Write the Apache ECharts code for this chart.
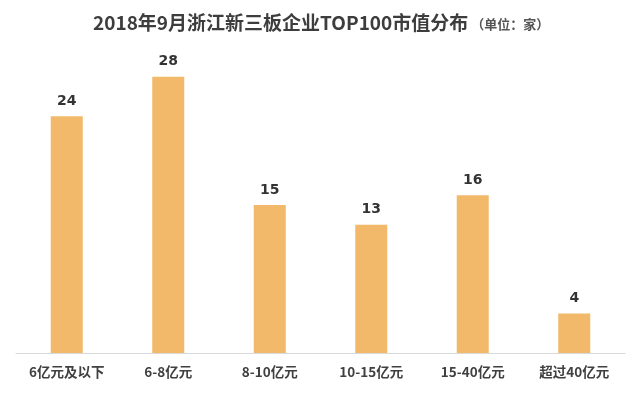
<!DOCTYPE html>
<html>
<head>
<meta charset="utf-8">
<script src="https://cdn.jsdelivr.net/npm/echarts@6/dist/echarts.min.js"></script>
<style>
  html, body { margin: 0; padding: 0; background: #fff; }
  #chart { width: 640px; height: 399px; }
</style>
</head>
<body>
<div id="chart"></div>
<script>
// 市值区间
const categories = ['6亿元及以下', '6-8亿元', '8-10亿元', '10-15亿元', '15-40亿元', '超过40亿元'];
// 企业数量（家）
const counts = [24, 28, 15, 13, 16, 4];

const titleMain = '2018年9月浙江新三板企业TOP100市值分布';
const titleUnit = ' （单位：家）';

const myChart = echarts.init(document.getElementById('chart'));

myChart.setOption({
    backgroundColor: '#ffffff',
    animation: false,
    title: {
        text: '{a|' + titleMain + '}{b|' + titleUnit + '}',
        left: 88,
        top: 8,
        textStyle: {
            rich: {
                a: {
                    fontFamily: 'Noto Sans CJK SC',
                    fontSize: 19,
                    fontWeight: 'bold',
                    color: '#3d3d3d'
                },
                b: {
                    fontFamily: 'Noto Sans CJK SC',
                    fontSize: 13,
                    color: '#555555',
                    padding: [3, 0, 0, 0]
                }
            }
        }
    },
    grid: {
        left: 16,
        right: 15,
        top: 57,
        bottom: 46
    },
    xAxis: {
        type: 'category',
        data: categories,
        axisTick: { show: false },
        axisLine: { lineStyle: { color: '#d9d9d9', width: 1 } },
        axisLabel: {
            margin: 12,
            fontFamily: 'Noto Sans CJK SC',
            fontSize: 13.5,
            fontWeight: 'bold',
            color: '#404040'
        }
    },
    yAxis: {
        type: 'value',
        min: 0,
        max: 30,
        show: false,
        splitLine: { show: false }
    },
    series: [{
        type: 'bar',
        data: counts,
        barWidth: 32,
        itemStyle: { color: '#f2b96a' },
        label: {
            show: true,
            position: 'top',
            distance: 8,
            fontFamily: 'DejaVu Sans',
            fontSize: 14,
            fontWeight: 'bold',
            color: '#333333'
        }
    }]
});
</script>
</body>
</html>
